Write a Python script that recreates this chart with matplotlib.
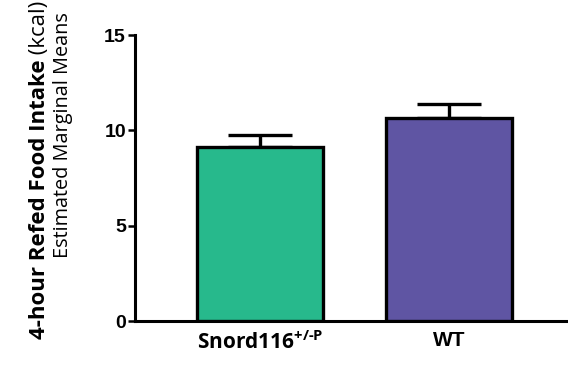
import numpy as np
import matplotlib
matplotlib.use("Agg")
import matplotlib.pyplot as plt

# Estimated marginal means and SEM for refed food intake
groups = ["Snord116", "WT"]
means = [9.1, 10.65]
sem = [0.65, 0.75]
colors = ["#27B98C", "#5F55A3"]
yticks = [0, 5, 10, 15]

plt.rcParams["mathtext.fontset"] = "custom"
plt.rcParams["mathtext.rm"] = "Open Sans:bold"
plt.rcParams["mathtext.bf"] = "Open Sans:bold"

fig = plt.figure(figsize=(5.68, 3.65), dpi=100)
ax = fig.add_axes([135 / 568, 1 - 321 / 365, 1 - 135 / 568, (321 - 35) / 365])

x = np.arange(len(groups))
ax.bar(x, means, width=0.667, color=colors, edgecolor="black", linewidth=2.4, zorder=3)
ax.errorbar(x, means, yerr=[np.zeros(len(sem)), sem], fmt="none", ecolor="black",
            elinewidth=2.4, capsize=23, capthick=2.4, zorder=2)

ax.set_xlim(-0.661, 1.63)
ax.set_ylim(0, 15)
ax.set_yticks(yticks)
ax.set_yticklabels([str(t) for t in yticks], fontfamily="Liberation Sans",
                   fontweight="bold", fontsize=14)
ax.tick_params(axis="y", length=5, width=1.8, pad=1.5)
ax.tick_params(axis="x", length=0, pad=7)
ax.set_xticks(x)
ax.set_xticklabels([r"Snord116$^{\text{+/-P}}$", "WT"], fontsize=15, fontweight="bold")
labels = ax.get_xticklabels()
labels[0].set_fontfamily("Open Sans")
labels[1].set_fontfamily("Liberation Sans")

for side in ["top", "right"]:
    ax.spines[side].set_visible(False)
for side in ["left", "bottom"]:
    ax.spines[side].set_linewidth(2.2)

# two-line y label: bold title plus regular unit, then subtitle
fig.canvas.draw()
r = fig.canvas.get_renderer()
t1 = fig.text(0, 0, "4-hour Refed Food Intake", rotation=90, rotation_mode="anchor",
              ha="left", va="baseline", fontsize=16, fontweight="bold", family="Open Sans")
t2 = fig.text(0, 0, " (kcal)", rotation=90, rotation_mode="anchor",
              ha="left", va="baseline", fontsize=16, family="Open Sans")
h1 = t1.get_window_extent(r).height
h2 = t2.get_window_extent(r).height
center = 365 - 170
start = center - (h1 + h2) / 2
x1 = 45 / 568
t1.set_position((x1, start / 365))
t2.set_position((x1, (start + h1) / 365))
fig.text(63 / 568, (365 - 135) / 365, "Estimated Marginal Means", rotation=90,
         ha="center", va="center", fontsize=14.3, family="Open Sans")

fig.savefig("out.png", dpi=100)
